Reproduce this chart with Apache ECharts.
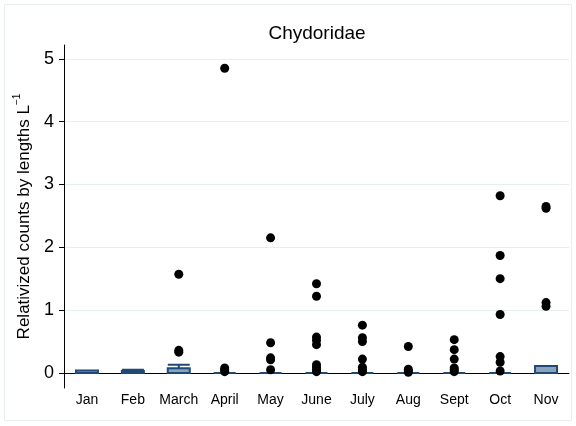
<!DOCTYPE html>
<html><head><meta charset="utf-8">
<script src="https://cdn.jsdelivr.net/npm/echarts@6/dist/echarts.min.js"></script>
<style>html,body{margin:0;padding:0;background:#fff}#c{width:576px;height:426px}</style>
</head><body><div id="c"></div>
<script>
const categories = ['Jan','Feb','March','April','May','June','July','Aug','Sept','Oct','Nov'];
// box statistics: [lower whisker, Q1, median, Q3, upper whisker]
const boxLow    = [0, 0, 0, 0, 0, 0, 0, 0, 0, 0, 0];
const boxQ1     = [0, 0, 0, 0, 0, 0, 0, 0, 0, 0, 0];
const boxMedian = [0, 0, 0, 0, 0, 0, 0, 0, 0, 0, 0];
const boxQ3     = [0.04, 0.03, 0.075, 0, 0, 0, 0, 0, 0, 0, 0.11];
const boxHigh   = [0.04, 0.05, 0.13, 0, 0, 0, 0, 0, 0, 0, 0.11];
const outJan   = [];
const outFeb   = [];
const outMarch = [1.57, 0.36, 0.33];
const outApril = [4.85, 0.08, 0.05, 0.02];
const outMay   = [2.15, 0.48, 0.24, 0.21, 0.05];
const outJune  = [1.42, 1.22, 0.57, 0.52, 0.45, 0.13, 0.09, 0.05, 0.02];
const outJuly  = [0.76, 0.56, 0.50, 0.22, 0.09, 0.05, 0.02];
const outAug   = [0.42, 0.06, 0.03, 0.01];
const outSept  = [0.53, 0.37, 0.22, 0.08, 0.05, 0.02];
const outOct   = [2.82, 1.87, 1.50, 0.93, 0.26, 0.17, 0.03];
const outNov   = [2.65, 2.62, 1.12, 1.06];
const yTicks = [0, 1, 2, 3, 4, 5];

const outliers = [outJan,outFeb,outMarch,outApril,outMay,outJune,outJuly,outAug,outSept,outOct,outNov];
const boxData = categories.map((c,i)=>[boxLow[i],boxQ1[i],boxMedian[i],boxQ3[i],boxHigh[i]]);
const scatterData = [];
outliers.forEach((arr,i)=>arr.forEach(v=>scatterData.push([i,v])));

const FONT = '"Liberation Sans", Arial, Helvetica, sans-serif';
const chart = echarts.init(document.getElementById('c'));
chart.setOption({
  animation:false,
  backgroundColor:'#fff',
  graphic:[{type:'rect',shape:{x:4.5,y:4.5,width:567,height:416},style:{fill:'none',stroke:'#e8eef0',lineWidth:1},silent:true}],
  title:{text:'Chydoridae',left:317,top:24,padding:0,textAlign:'center',textStyle:{fontFamily:FONT,fontSize:19,fontWeight:'normal',color:'#000'}},
  grid:{left:64,right:7,top:45,bottom:38},
  xAxis:{type:'category',data:categories,boundaryGap:true,
    axisLine:{show:true,lineStyle:{color:'#000',width:1}},
    axisTick:{show:false},
    axisLabel:{fontFamily:FONT,fontSize:14,color:'#000',margin:5,interval:0,hideOverlap:false},
    splitLine:{show:false}},
  yAxis:{type:'value',min:-0.24,max:5.22,
    name:'{a|Relativized counts by lengths L}{s|−1}',
    nameLocation:'middle',nameGap:21,nameRotate:90,
    nameTextStyle:{rich:{a:{fontFamily:FONT,fontSize:17,color:'#000',lineHeight:21,verticalAlign:'bottom'},s:{fontFamily:FONT,fontSize:10,color:'#000',lineHeight:21,verticalAlign:'top'}}},
    axisLine:{show:true,lineStyle:{color:'#000',width:1}},
    axisTick:{show:true,length:5,customValues:yTicks,lineStyle:{color:'#000'}},
    axisLabel:{fontFamily:FONT,fontSize:18,color:'#000',margin:10,customValues:yTicks},
    splitLine:{show:true,lineStyle:{color:'#e6eef0',width:1}}},
  series:[
    {type:'boxplot',data:boxData,boxWidth:[22,22],
      itemStyle:{color:'#8ba2bc',borderColor:'#1f4a78',borderWidth:2}},
    {type:'scatter',data:scatterData,symbol:'circle',symbolSize:9,itemStyle:{color:'#000',opacity:1}}
  ]
});
</script></body></html>
